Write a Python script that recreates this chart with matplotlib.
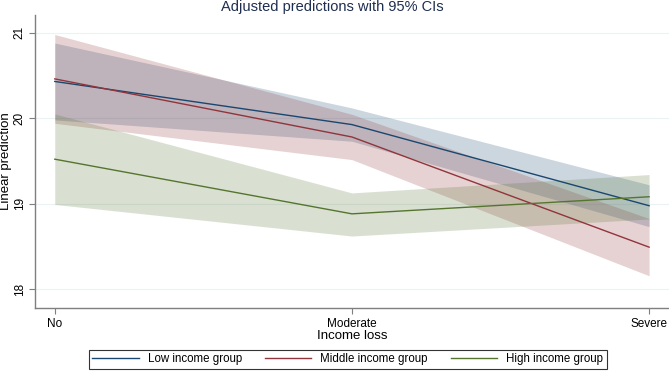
import numpy as np
import matplotlib.pyplot as plt

plt.rcParams['font.family'] = ['Liberation Sans', 'DejaVu Sans']

# income loss categories
levels = ['No', 'Moderate', 'Severe']

# predicted values and 95% CI limits per income group
low_pred = [20.43, 19.925, 18.975]
low_lo = [19.98, 19.73, 18.73]
low_hi = [20.88, 20.12, 19.22]

mid_pred = [20.46, 19.78, 18.49]
mid_lo = [19.94, 19.515, 18.155]
mid_hi = [20.98, 20.045, 18.825]

high_pred = [19.52, 18.88, 19.08]
high_lo = [18.99, 18.62, 18.82]
high_hi = [20.05, 19.125, 19.34]

groups = ['Low income group', 'Middle income group', 'High income group']
colors = ['#1a476f', '#90353b', '#55752f']

fig = plt.figure(figsize=(6.69, 3.71), dpi=100)
ax = fig.add_axes([0.053, 0.169, 0.947, 0.791])

x = np.arange(len(levels))
series = [(low_pred, low_lo, low_hi), (mid_pred, mid_lo, mid_hi), (high_pred, high_lo, high_hi)]

for (pred, lo, hi), c in zip(series, colors):
    ax.fill_between(x, lo, hi, color=c, alpha=0.22, linewidth=0)
for (pred, lo, hi), c, g in zip(series, colors, groups):
    ax.plot(x, pred, color=c, lw=1.0, label=g)

ax.set_xlim(-0.065, 2.067)
ax.set_ylim(17.774, 21.21)
ax.set_xticks(x)
ax.set_xticklabels(levels, fontsize=8.5)
ax.set_yticks([18, 19, 20, 21])
ax.set_yticklabels(['18', '19', '20', '21'], fontsize=8.5, rotation=90, va='center')
ax.yaxis.grid(True, color='#eaf2f3', lw=0.8)
ax.set_axisbelow(True)

for s in ['top', 'right']:
    ax.spines[s].set_visible(False)
for s in ['left', 'bottom']:
    ax.spines[s].set_color('#7f7f7f')
    ax.spines[s].set_linewidth(1.0)
ax.tick_params(direction='out', length=4, width=0.8, color='#7f7f7f', pad=3)

ax.set_xlabel('Income loss', fontsize=9.5, labelpad=0)
ax.set_ylabel('Linear prediction', fontsize=9.5, labelpad=1)
fig.text(0.496, 0.999, 'Adjusted predictions with 95% CIs', fontsize=10.5,
         color='#1e2e4f', ha='center', va='top')

leg = fig.legend(loc='center', bbox_to_anchor=(0.52, 0.031), ncol=3, fontsize=8.3,
                 frameon=True, fancybox=False, edgecolor='black', handlelength=4.0,
                 columnspacing=2.0, borderpad=0.3, handletextpad=0.8)
leg.get_frame().set_linewidth(0.8)

fig.savefig('out.png', dpi=100)
